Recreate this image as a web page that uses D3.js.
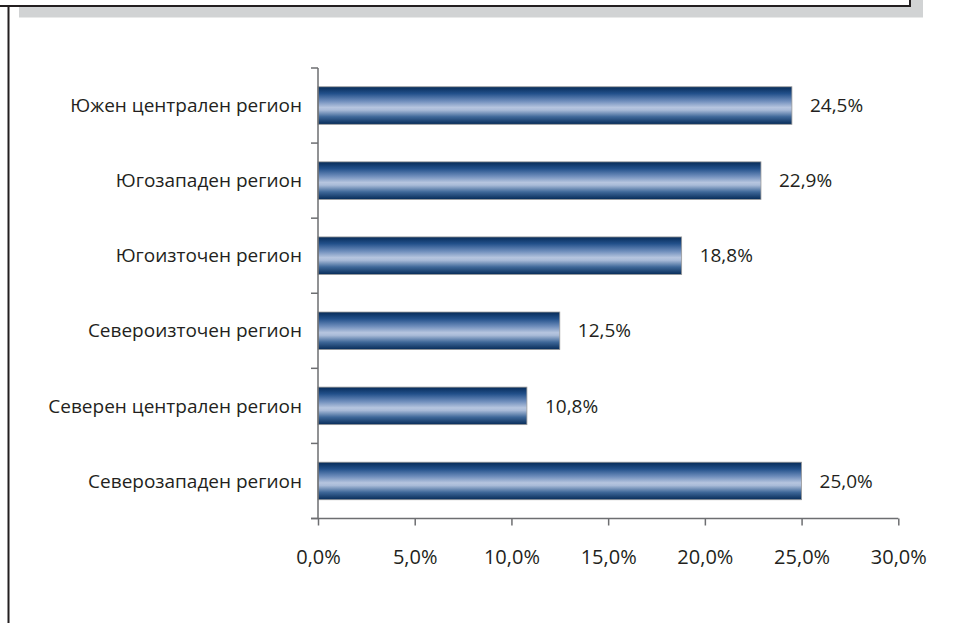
<!DOCTYPE html>
<html>
<head>
<meta charset="utf-8">
<script src="https://cdn.jsdelivr.net/npm/d3@7"></script>
<style>
  html, body { margin: 0; padding: 0; background: #fff; }
  svg { display: block; }
</style>
</head>
<body>
<div id="chart"></div>
<script>
// данни
var regions = ["Южен централен регион", "Югозападен регион", "Югоизточен регион",
  "Североизточен регион", "Северен централен регион", "Северозападен регион"];
var shares = [24.5, 22.9, 18.8, 12.5, 10.8, 25.0];
var xTicks = [0, 5, 10, 15, 20, 25, 30];

var width = 961, height = 623;
var font = "'Open Sans', 'Noto Sans', sans-serif";
var fontSize = "19px";
var textColor = "#231f20";
var axisColor = "#6d6e71";

var svg = d3.select("#chart").append("svg")
  .attr("width", width)
  .attr("height", height);

// рамка отгоре (сянка + линии)
svg.append("rect")
  .attr("x", 19).attr("y", 0)
  .attr("width", 904).attr("height", 17.5)
  .attr("fill", "#d1d3d4");
svg.append("rect")
  .attr("x", -5).attr("y", -10)
  .attr("width", 915).attr("height", 16)
  .attr("fill", "#fff")
  .attr("stroke", "#231f20")
  .attr("stroke-width", 2);
svg.append("line")
  .attr("x1", 8.5).attr("x2", 8.5)
  .attr("y1", 6).attr("y2", height)
  .attr("stroke", "#231f20")
  .attr("stroke-width", 2);

// градиент на лентите
var defs = svg.append("defs");
var grad = defs.append("linearGradient")
  .attr("id", "barGrad")
  .attr("x1", 0).attr("y1", 0).attr("x2", 0).attr("y2", 1);
[[0, "#062b58"], [0.18, "#22508a"], [0.38, "#6e8dbb"], [0.55, "#b6c5df"],
 [0.62, "#a9bbd8"], [0.8, "#3f6899"], [1, "#062b58"]].forEach(function(s) {
  grad.append("stop").attr("offset", s[0]).attr("stop-color", s[1]);
});

var pLeft = 318, pRight = 898.3, pTop = 68, pBottom = 518.5;

var x = d3.scaleLinear()
  .domain([0, 30])
  .range([pLeft, pRight]);

var y = d3.scaleBand()
  .domain(regions)
  .range([pTop, pBottom])
  .paddingInner(0.5)
  .paddingOuter(0.25);

var fmt = d3.formatLocale({ decimal: ",", thousands: " ", grouping: [3], currency: ["", ""] });
var pct = function(d) { return fmt.format(".1f")(d) + "%"; };

// ленти
svg.selectAll(".bar")
  .data(regions)
  .enter()
  .append("rect")
  .attr("class", "bar")
  .attr("x", x(0))
  .attr("y", function(d) { return y(d); })
  .attr("width", function(d, i) { return x(shares[i]) - x(0); })
  .attr("height", y.bandwidth())
  .attr("fill", "url(#barGrad)")
  .attr("stroke", "#9a9a9a")
  .attr("stroke-width", 0.8);

// стойности
svg.selectAll(".val")
  .data(regions)
  .enter()
  .append("text")
  .attr("class", "val")
  .attr("x", function(d, i) { return x(shares[i]) + 18; })
  .attr("y", function(d) { return y(d) + y.bandwidth() / 2; })
  .attr("dy", "0.35em")
  .attr("fill", textColor)
  .style("font-family", font)
  .style("font-size", fontSize)
  .text(function(d, i) { return pct(shares[i]); });

// ос X
var xAxis = d3.axisBottom(x)
  .tickValues(xTicks)
  .tickSize(7)
  .tickPadding(24)
  .tickFormat(pct);

var gx = svg.append("g")
  .attr("transform", "translate(0," + pBottom + ")")
  .call(xAxis);
gx.select(".domain").remove();
gx.append("line")
  .attr("x1", pLeft - 7).attr("x2", pRight)
  .attr("stroke", axisColor).attr("stroke-width", 1.5);
gx.selectAll(".tick line").attr("stroke", axisColor).attr("stroke-width", 1.5);
gx.selectAll(".tick text")
  .attr("fill", textColor)
  .style("font-family", font)
  .style("font-size", "20px");

// ос Y
var gy = svg.append("g");
gy.append("line")
  .attr("x1", pLeft).attr("x2", pLeft)
  .attr("y1", pTop).attr("y2", pBottom)
  .attr("stroke", axisColor).attr("stroke-width", 1.5);
var step = y.step();
var bounds = d3.range(regions.length + 1).map(function(i) { return pTop + i * step; });
gy.selectAll(".ytick")
  .data(bounds)
  .enter()
  .append("line")
  .attr("x1", pLeft - 7).attr("x2", pLeft)
  .attr("y1", function(d) { return d; })
  .attr("y2", function(d) { return d; })
  .attr("stroke", axisColor).attr("stroke-width", 1.5);

gy.selectAll(".ylab")
  .data(regions)
  .enter()
  .append("text")
  .attr("x", pLeft - 16)
  .attr("y", function(d) { return y(d) + y.bandwidth() / 2; })
  .attr("dy", "0.35em")
  .attr("text-anchor", "end")
  .attr("fill", textColor)
  .style("font-family", font)
  .style("font-size", fontSize)
  .text(function(d) { return d; });
</script>
</body>
</html>
